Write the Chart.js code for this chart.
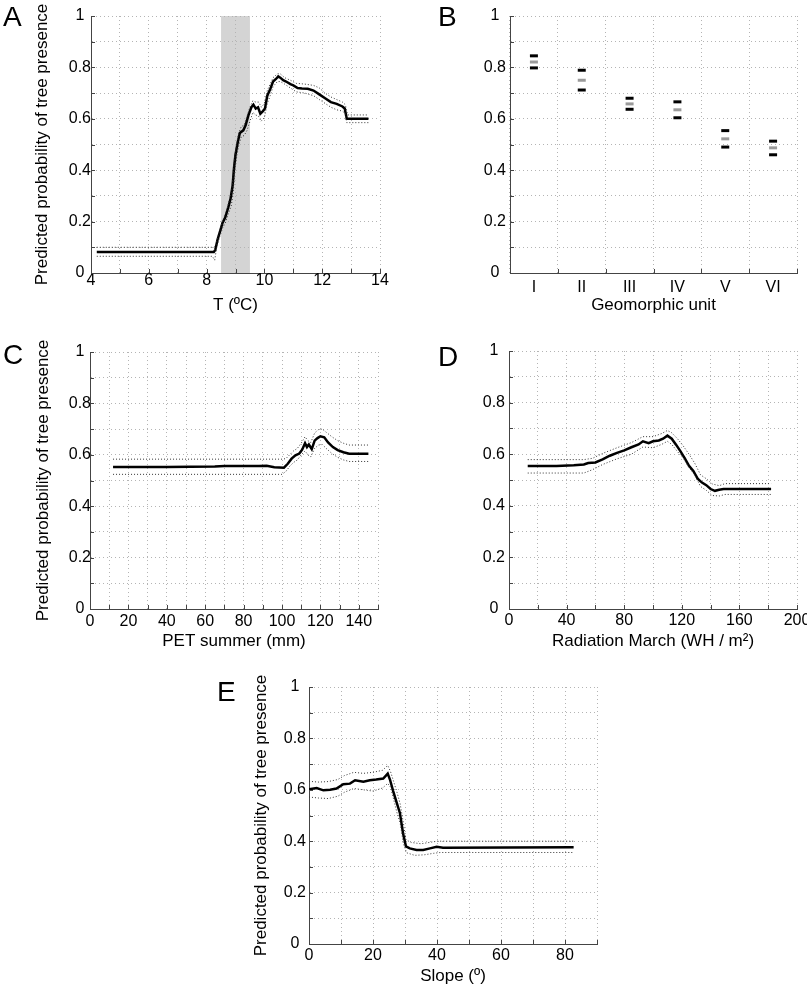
<!DOCTYPE html>
<html>
<head>
<meta charset="utf-8">
<script src="https://cdn.jsdelivr.net/npm/chart.js@4.4.1/dist/chart.umd.min.js"></script>
<style>
  html, body { margin: 0; padding: 0; background: #fff; overflow: hidden; }
  body { position: relative; width: 807px; height: 987px; font-family: 'Liberation Sans', Arial, sans-serif; }
  .panel { position: absolute; }
  .letter { position: absolute; font-size: 28px; line-height: 28px; color: #000; }
</style>
</head>
<body>
<div class="panel" style="left:0;top:0;width:400px;height:320px"><canvas id="chartA"></canvas></div>
<div class="panel" style="left:400px;top:0;width:407px;height:320px"><canvas id="chartB"></canvas></div>
<div class="panel" style="left:0;top:320px;width:400px;height:340px"><canvas id="chartC"></canvas></div>
<div class="panel" style="left:400px;top:320px;width:407px;height:340px"><canvas id="chartD"></canvas></div>
<div class="panel" style="left:190px;top:660px;width:420px;height:327px"><canvas id="chartE"></canvas></div>

<div class="letter" style="left:3px;top:3px">A</div>
<div class="letter" style="left:438px;top:3px">B</div>
<div class="letter" style="left:3px;top:341px">C</div>
<div class="letter" style="left:438px;top:343px">D</div>
<div class="letter" style="left:217px;top:678px">E</div>

<script>
// Panel A: temperature
const tempMean = [[4.2,0.082],[8.25,0.082],[8.3,0.09],[8.38,0.13],[8.46,0.16],[8.55,0.195],[8.64,0.215],[8.75,0.255],
  [8.83,0.29],[8.9,0.34],[8.95,0.41],[9.0,0.46],[9.08,0.51],[9.15,0.545],[9.27,0.555],[9.35,0.575],[9.45,0.615],
  [9.55,0.645],[9.62,0.655],[9.7,0.64],[9.78,0.645],[9.86,0.62],[9.95,0.63],[10.02,0.64],[10.1,0.69],[10.2,0.715],
  [10.3,0.745],[10.4,0.755],[10.48,0.765],[10.55,0.76],[10.65,0.75],[10.75,0.745],[10.9,0.735],[11.0,0.73],
  [11.15,0.72],[11.3,0.718],[11.5,0.717],[11.7,0.71],[11.9,0.695],[12.1,0.68],[12.3,0.665],[12.5,0.658],
  [12.7,0.648],[12.78,0.64],[12.85,0.6],[13.6,0.6]];
const tempUpper = [[4.2,0.1],[8.25,0.1],[8.32,0.11],[8.4,0.145],[8.5,0.18],[8.6,0.215],[8.7,0.245],[8.8,0.29],
  [8.88,0.33],[8.95,0.43],[9.02,0.49],[9.1,0.54],[9.2,0.57],[9.3,0.575],[9.4,0.61],[9.5,0.645],[9.6,0.67],
  [9.7,0.665],[9.8,0.665],[9.9,0.645],[10.0,0.66],[10.1,0.71],[10.2,0.735],[10.3,0.76],[10.45,0.775],[10.55,0.775],
  [10.7,0.76],[10.9,0.75],[11.1,0.738],[11.4,0.735],[11.7,0.73],[11.9,0.72],[12.1,0.7],[12.3,0.685],[12.5,0.675],
  [12.7,0.665],[12.8,0.655],[12.88,0.615],[13.6,0.615]];
const tempLower = [[4.2,0.065],[8.2,0.065],[8.28,0.05],[8.35,0.1],[8.45,0.14],[8.55,0.175],[8.65,0.195],[8.75,0.23],
  [8.85,0.26],[8.92,0.31],[8.98,0.4],[9.05,0.46],[9.12,0.5],[9.2,0.53],[9.3,0.535],[9.4,0.555],[9.5,0.59],
  [9.6,0.625],[9.7,0.615],[9.8,0.61],[9.88,0.59],[10.0,0.605],[10.1,0.66],[10.2,0.69],[10.3,0.725],[10.45,0.745],
  [10.55,0.745],[10.7,0.735],[10.9,0.72],[11.1,0.705],[11.4,0.7],[11.7,0.69],[11.9,0.675],[12.1,0.66],[12.3,0.645],
  [12.5,0.635],[12.7,0.63],[12.8,0.62],[12.85,0.585],[13.6,0.585]];
const tempBand = [8.5, 9.5];

// Panel B: geomorphic units
const unitLabels = ['I', 'II', 'III', 'IV', 'V', 'VI'];
const unitUpper = [0.845, 0.789, 0.68, 0.666, 0.554, 0.513];
const unitMean = [0.821, 0.75, 0.658, 0.635, 0.522, 0.487];
const unitLower = [0.798, 0.712, 0.637, 0.604, 0.49, 0.46];

// Panel C: PET summer
const petMean = [[12,0.553],[40,0.553],[65,0.554],[70,0.556],[88,0.556],[92,0.557],[96,0.552],[101,0.55],[103,0.565],
  [105,0.585],[107,0.598],[109,0.605],[110.5,0.62],[112,0.645],[113,0.63],[114,0.64],[115.5,0.622],[117,0.655],
  [118.5,0.665],[120,0.672],[122,0.668],[124,0.648],[126.5,0.63],[129,0.618],[132,0.61],[135,0.604],[145,0.604]];
const petUpper = [[12,0.583],[100,0.583],[102,0.585],[104,0.6],[106,0.615],[108,0.625],[110,0.645],[112,0.67],
  [113.5,0.655],[115,0.648],[117,0.685],[119,0.698],[121,0.7],[123,0.688],[126,0.67],[129,0.655],[132,0.645],
  [135,0.638],[145,0.638]];
const petLower = [[12,0.524],[100,0.524],[102,0.535],[104,0.555],[106,0.57],[108,0.58],[110,0.6],[112,0.615],
  [113.5,0.6],[115,0.592],[117,0.625],[119,0.638],[121,0.64],[123,0.625],[126,0.605],[129,0.59],[132,0.58],
  [135,0.574],[145,0.574]];

// Panel D: radiation March
const radMean = [[13,0.554],[33,0.554],[45,0.557],[52,0.56],[55,0.566],[60,0.568],[65,0.58],[70,0.594],[75,0.605],
  [80,0.615],[85,0.627],[90,0.638],[93,0.65],[97,0.643],[100,0.65],[104,0.653],[107,0.66],[110,0.672],[113,0.66],
  [116,0.637],[119,0.612],[122,0.585],[125,0.555],[128,0.535],[131,0.505],[134,0.49],[137,0.48],[140,0.465],
  [143,0.458],[146,0.462],[149,0.465],[182,0.465]];
const radUpper = [[13,0.579],[52,0.579],[58,0.584],[65,0.603],[75,0.625],[85,0.645],[93,0.668],[100,0.668],
  [106,0.68],[110,0.692],[113,0.683],[117,0.66],[121,0.632],[125,0.6],[129,0.565],[133,0.52],[137,0.505],
  [141,0.485],[146,0.478],[150,0.486],[182,0.486]];
const radLower = [[13,0.527],[52,0.527],[58,0.54],[65,0.56],[75,0.582],[85,0.6],[93,0.628],[100,0.625],[106,0.638],
  [110,0.65],[113,0.638],[117,0.61],[121,0.585],[125,0.548],[129,0.52],[133,0.475],[137,0.46],[141,0.44],
  [146,0.438],[150,0.444],[182,0.444]];

// Panel E: slope
const slopeMean = [[0,0.602],[2.4,0.607],[4.5,0.598],[6.6,0.6],[8.6,0.605],[10.7,0.622],[12.8,0.624],[14.4,0.637],
  [17,0.631],[19,0.637],[21,0.64],[23.2,0.644],[24.6,0.663],[25.3,0.64],[26.3,0.595],[27.4,0.55],[28.4,0.51],
  [29.4,0.43],[30.3,0.38],[31.5,0.372],[33.6,0.366],[35.7,0.366],[37.8,0.372],[39.9,0.378],[41.9,0.375],[82.7,0.376]];
const slopeUpper = [[0,0.633],[3,0.63],[6,0.632],[9,0.64],[11,0.655],[14,0.668],[17,0.664],[20,0.668],[23,0.676],
  [24.6,0.695],[25.5,0.67],[26.5,0.63],[27.5,0.59],[28.5,0.545],[29.5,0.47],[30.3,0.405],[32,0.395],[35,0.39],
  [38,0.396],[40,0.4],[82.7,0.4]];
const slopeLower = [[0,0.572],[3,0.568],[6,0.566],[9,0.575],[11,0.59],[14,0.605],[17,0.6],[20,0.595],[23,0.607],
  [24.6,0.625],[25.5,0.61],[26.5,0.56],[27.5,0.51],[28.5,0.47],[29.5,0.39],[30.5,0.355],[33,0.345],[36,0.347],
  [39,0.353],[41,0.356],[82.7,0.356]];

const Y_TITLE = 'Predicted probability of tree presence';
const TICK_FONT = "'Liberation Sans', Arial, sans-serif";
const TITLE_FONT = "'Liberation Sans', Arial, sans-serif";
const GRID_COLOR = '#b4b4b4';
const AXIS_COLOR = '#444';

function probLabel(value) {
  const tenths = Math.round(value * 10);
  if (tenths % 2) return '';
  if (tenths === 0) return '0';
  if (tenths === 10) return '1';
  return (tenths / 10).toFixed(1);
}

// little inward tick marks, like the original plot
const innerTicks = {
  id: 'innerTicks',
  afterDraw(chart) {
    const { ctx, chartArea } = chart;
    ctx.save();
    ctx.strokeStyle = AXIS_COLOR;
    ctx.lineWidth = 1;
    ctx.beginPath();
    const xs = chart.scales.x;
    xs.ticks.forEach(t => {
      const px = xs.type === 'category' ? xs.getPixelForValue(t.value + 0.5) : xs.getPixelForValue(t.value);
      ctx.moveTo(Math.round(px) + 0.5, chartArea.bottom);
      ctx.lineTo(Math.round(px) + 0.5, chartArea.bottom - 4);
    });
    const ys = chart.scales.y;
    ys.ticks.forEach(t => {
      const py = ys.getPixelForValue(t.value);
      ctx.moveTo(chartArea.left, Math.round(py) + 0.5);
      ctx.lineTo(chartArea.left + 4, Math.round(py) + 0.5);
    });
    ctx.stroke();
    ctx.restore();
  },
};

// grey band for the temperature panel
const shadeBand = {
  id: 'shadeBand',
  beforeDraw(chart, args, opts) {
    if (!opts.range) return;
    const { ctx, chartArea } = chart;
    const x0 = chart.scales.x.getPixelForValue(opts.range[0]);
    const x1 = chart.scales.x.getPixelForValue(opts.range[1]);
    ctx.save();
    ctx.fillStyle = '#d4d4d4';
    ctx.fillRect(x0, chartArea.top, x1 - x0, chartArea.bottom - chartArea.top);
    ctx.restore();
  },
};

function bandDatasets(mean, upper, lower) {
  const band = { borderColor: '#333', borderWidth: 1, borderDash: [1, 2], pointRadius: 0, tension: 0, fill: false };
  return [
    { ...band, data: upper },
    { ...band, data: lower },
    { data: mean, borderColor: '#000', borderWidth: 2.5, pointRadius: 0, tension: 0, fill: false },
  ];
}

function makeChart(id, cfg) {
  const xScale = {
    type: cfg.xType || 'linear',
    min: cfg.xMin,
    max: cfg.xMax,
    offset: cfg.xType === 'category',
    grid: { color: GRID_COLOR, lineWidth: 1, drawTicks: false, offset: cfg.xType === 'category' },
    border: { display: true, color: AXIS_COLOR, width: 1, dash: [1, 3] },
    ticks: {
      stepSize: cfg.xStep,
      autoSkip: false,
      maxRotation: 0,
      padding: cfg.xTickPad,
      color: '#000',
      font: { family: TICK_FONT, size: 16, lineHeight: 1 },
      callback: cfg.xLabel,
    },
    title: {
      display: true,
      text: cfg.xTitle,
      color: '#000',
      font: { family: TITLE_FONT, size: 17, lineHeight: 1.2 },
      padding: { top: 0, bottom: cfg.xTitlePad },
    },
    afterFit: scale => {
      scale.height = cfg.xHeight;
      scale.paddingLeft = 0;
      scale.paddingRight = 0;
    },
  };
  const yScale = {
    type: 'linear',
    min: 0,
    max: 1,
    grid: { color: GRID_COLOR, lineWidth: 1, drawTicks: false },
    border: { display: true, color: AXIS_COLOR, width: 1, dash: [1, 3] },
    ticks: {
      stepSize: 0.1,
      autoSkip: false,
      crossAlign: 'center',
      padding: cfg.yTickPad,
      color: '#000',
      font: { family: TICK_FONT, size: 16, lineHeight: 1 },
      callback: probLabel,
    },
    title: {
      display: !!cfg.yTitle,
      text: Y_TITLE,
      color: '#000',
      font: { family: TITLE_FONT, size: 17, lineHeight: 1.2 },
      padding: { top: cfg.yTitlePad || 0, bottom: 0 },
    },
    afterFit: scale => {
      scale.width = cfg.yWidth;
      scale.paddingTop = 0;
      scale.paddingBottom = 0;
    },
  };

  return new Chart(document.getElementById(id), {
    type: 'line',
    data: { labels: cfg.labels, datasets: cfg.datasets },
    options: {
      responsive: true,
      maintainAspectRatio: false,
      animation: false,
      events: [],
      layout: { padding: { left: 0, top: cfg.padTop, right: cfg.padRight, bottom: 0 } },
      plugins: {
        legend: { display: false },
        tooltip: { enabled: false },
        shadeBand: { range: cfg.band },
      },
      scales: { x: xScale, y: yScale },
    },
    plugins: [shadeBand, innerTicks],
  });
}

makeChart('chartA', {
  xMin: 4, xMax: 14, xStep: 1, xLabel: v => (v % 2 === 0 ? v : ''),
  xTitle: 'T (ºC)', xHeight: 47, xTickPad: 0, xTitlePad: 4.8,
  yWidth: 91, yTickPad: 0, yTitle: true, yTitlePad: 31.8,
  padTop: 16, padRight: 20, band: tempBand,
  datasets: bandDatasets(tempMean, tempUpper, tempLower),
});

const tickMark = { showLine: false, pointStyle: 'line', pointRadius: 4, pointBorderWidth: 3 };
makeChart('chartB', {
  xType: 'category', labels: unitLabels, xLabel: function (v) { return this.getLabelForValue(v); },
  xTitle: 'Geomorphic unit', xHeight: 47, xTickPad: 7, xTitlePad: 4.8,
  yWidth: 110, yTickPad: 4, yTitle: false,
  padTop: 16, padRight: 10,
  datasets: [
    { ...tickMark, data: unitUpper, borderColor: '#000', pointBorderColor: '#000' },
    { ...tickMark, data: unitMean, borderColor: '#9a9a9a', pointBorderColor: '#9a9a9a' },
    { ...tickMark, data: unitLower, borderColor: '#000', pointBorderColor: '#000' },
  ],
});

makeChart('chartC', {
  xMin: 0, xMax: 150, xStep: 10, xLabel: v => (v % 20 === 0 ? v : ''),
  xTitle: 'PET summer (mm)', xHeight: 51, xTickPad: 5, xTitlePad: 8.8,
  yWidth: 90, yTickPad: -1, yTitle: true, yTitlePad: 32.8,
  padTop: 32, padRight: 22,
  datasets: bandDatasets(petMean, petUpper, petLower),
});

makeChart('chartD', {
  xMin: 0, xMax: 200, xStep: 20, xLabel: v => (v % 40 === 0 ? v : ''),
  xTitle: 'Radiation March (WH / m²)', xHeight: 51, xTickPad: 4, xTitlePad: 8.8,
  yWidth: 109, yTickPad: 4, yTitle: false,
  padTop: 31, padRight: 10,
  datasets: bandDatasets(radMean, radUpper, radLower),
});

makeChart('chartE', {
  xMin: 0, xMax: 90, xStep: 10, xLabel: v => (v % 20 === 0 ? v : ''),
  xTitle: 'Slope (º)', xHeight: 43, xTickPad: 4, xTitlePad: 0.8,
  yWidth: 119, yTickPad: 3, yTitle: true, yTitlePad: 60.8,
  padTop: 27, padRight: 13,
  datasets: bandDatasets(slopeMean, slopeUpper, slopeLower),
});
</script>
</body>
</html>
